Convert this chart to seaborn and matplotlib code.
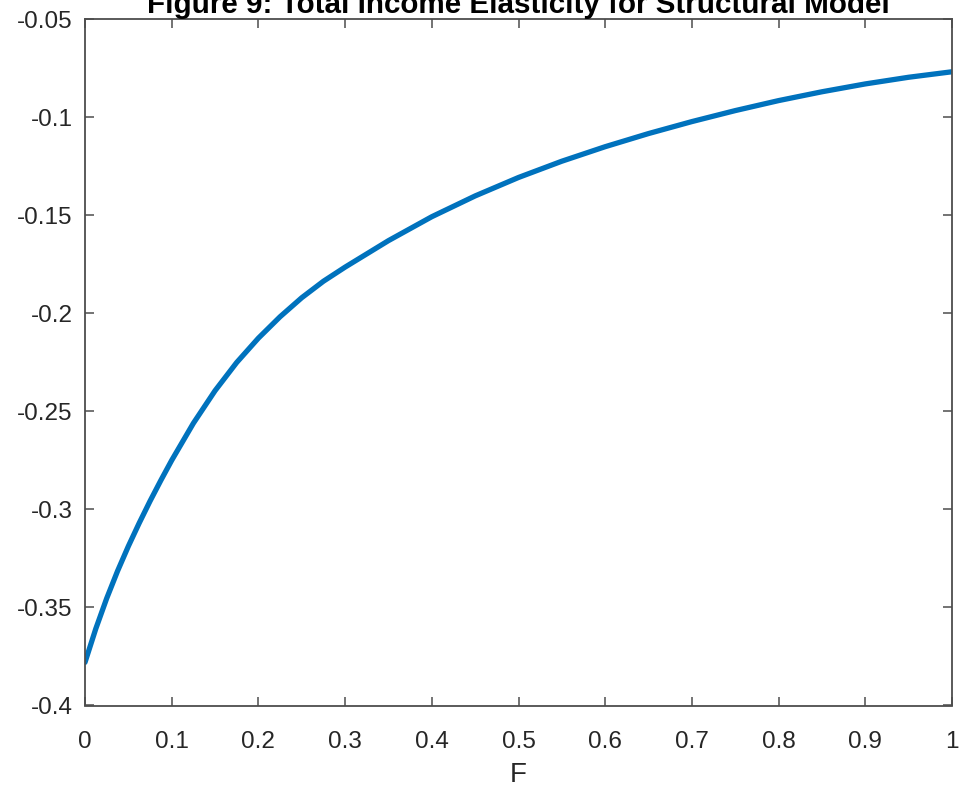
import matplotlib
matplotlib.use("Agg")
import matplotlib.pyplot as plt
import seaborn as sns
import pandas as pd

# values
F = [0, 0.0125, 0.025, 0.0375, 0.05, 0.0625, 0.075, 0.0875, 0.1, 0.125,
     0.15, 0.175, 0.2, 0.225, 0.25, 0.275, 0.3, 0.35, 0.4, 0.45, 0.5, 0.55,
     0.6, 0.65, 0.7, 0.75, 0.8, 0.85, 0.9, 0.95, 1.0]
elasticity = [-0.3780, -0.3608, -0.3454, -0.3315, -0.3188, -0.3070, -0.2958,
              -0.2852, -0.2750, -0.2561, -0.2395, -0.2251, -0.2127, -0.2018,
              -0.1921, -0.1837, -0.1765, -0.1630, -0.1508, -0.1402, -0.1308,
              -0.1225, -0.1151, -0.1084, -0.1023, -0.0967, -0.0916, -0.0871,
              -0.0831, -0.0797, -0.0769]
xticks = [0, 0.1, 0.2, 0.3, 0.4, 0.5, 0.6, 0.7, 0.8, 0.9, 1]
yticks = [-0.4, -0.35, -0.3, -0.25, -0.2, -0.15, -0.1, -0.05]

df = pd.DataFrame({'F': F, 'E': elasticity})

sns.set_style('ticks')
plt.rcParams['font.family'] = ['Liberation Sans', 'DejaVu Sans']
txt = '#262626'
axcol = '#4d4d4d'

fig = plt.figure(figsize=(9.64, 7.93), dpi=100)
ax = fig.add_axes([85 / 964, 1 - 705.5 / 793, 867 / 964, 686.5 / 793])

sns.lineplot(data=df, x='F', y='E', ax=ax, color='#0072BD', linewidth=3.8)

ax.set_xlim(0, 1)
ax.set_ylim(-0.4, -0.05)
ax.set_xticks(xticks)
ax.set_xticklabels(['%g' % v for v in xticks])
ax.set_yticks(yticks)
ax.set_yticklabels(['%g' % v for v in yticks])
ax.tick_params(direction='in', length=6.5, width=1.1, color=axcol,
               labelsize=17.5, labelcolor=txt, top=True, right=True)
ax.tick_params(axis='x', pad=18)
ax.tick_params(axis='y', pad=9)
for s in ax.spines.values():
    s.set_visible(True)
    s.set_color(axcol)
    s.set_linewidth(1.3)

ax.set_xlabel('F', fontsize=20, color=txt, labelpad=7)
ax.set_ylabel('')

fig.text(518.5 / 964, 1 - 13 / 793,
         'Figure 9: Total Income Elasticity for Structural Model',
         ha='center', va='baseline', fontsize=21.3, fontweight='bold', color='black')

fig.savefig('out.png', dpi=100)
